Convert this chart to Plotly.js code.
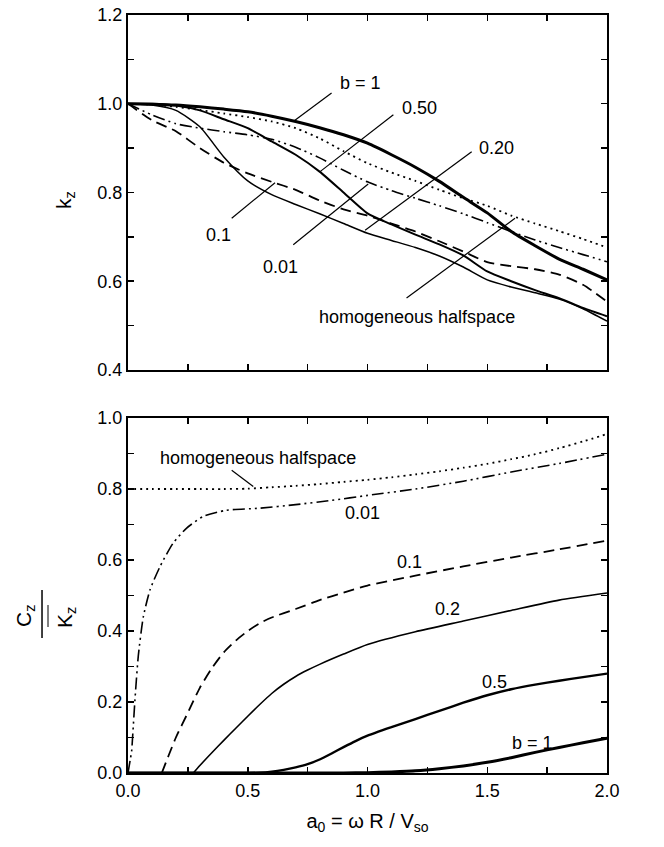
<!DOCTYPE html>
<html><head><meta charset="utf-8">
<script src="https://cdn.plot.ly/plotly-3.0.1.min.js"></script>
<style>body{margin:0;background:#fff}#chart{width:664px;height:847px}</style>
</head><body><div id="chart"></div>
<script>
// ---------- data: upper panel (k_z) ----------
const xTop = [0,0.1,0.2,0.3,0.4,0.5,0.6,0.7,0.8,0.9,1.0,1.1,1.2,1.3,1.4,1.5,1.6,1.7,1.8,1.9,2.0];
const kB1   = [1.0,0.999,0.997,0.993,0.988,0.982,0.972,0.960,0.946,0.930,0.911,0.885,0.857,0.825,0.789,0.754,0.712,0.680,0.650,0.627,0.603];
const kB050 = [1.0,1.0,0.996,0.985,0.965,0.945,0.915,0.885,0.847,0.800,0.753,0.728,0.705,0.683,0.658,0.622,0.600,0.580,0.562,0.540,0.521];
const kB020 = [1.0,0.997,0.985,0.948,0.880,0.826,0.795,0.773,0.752,0.730,0.708,0.692,0.676,0.657,0.632,0.603,0.587,0.574,0.560,0.538,0.510];
const kB01  = [1.0,0.963,0.938,0.900,0.867,0.843,0.824,0.806,0.782,0.762,0.748,0.730,0.712,0.690,0.667,0.643,0.634,0.627,0.615,0.592,0.554];
const kB001 = [1.0,0.975,0.955,0.945,0.937,0.930,0.920,0.902,0.878,0.850,0.824,0.804,0.787,0.770,0.752,0.732,0.712,0.693,0.676,0.660,0.644];
const kHom  = [1.0,0.998,0.993,0.986,0.978,0.970,0.960,0.945,0.922,0.893,0.866,0.845,0.826,0.806,0.787,0.770,0.748,0.730,0.713,0.695,0.676];

// ---------- data: lower panel (C_z / K_z) ----------
const xHomC = [0,0.1,0.2,0.3,0.4,0.5,0.6,0.7,0.8,0.9,1.0,1.1,1.2,1.3,1.4,1.5,1.6,1.7,1.8,1.9,2.0];
const cHom  = [0.8,0.8,0.8,0.8,0.8,0.801,0.805,0.809,0.814,0.820,0.826,0.833,0.841,0.850,0.860,0.871,0.884,0.898,0.915,0.934,0.955];
const x001C = [0,0.005,0.01,0.015,0.02,0.03,0.043,0.064,0.092,0.134,0.189,0.245,0.315,0.41,0.55,0.7,0.85,1.0,1.2,1.4,1.6,1.8,2.0];
const c001  = [0,0.02,0.04,0.06,0.11,0.216,0.33,0.44,0.516,0.582,0.648,0.69,0.723,0.74,0.746,0.756,0.768,0.782,0.800,0.822,0.848,0.872,0.898];
const x01C  = [0.141,0.17,0.2,0.25,0.3,0.35,0.4,0.45,0.5,0.55,0.6,0.7,0.8,0.9,1.0,1.2,1.4,1.6,1.8,2.0];
const c01   = [0,0.05,0.1,0.17,0.24,0.295,0.34,0.373,0.40,0.422,0.438,0.462,0.487,0.508,0.528,0.556,0.582,0.607,0.630,0.655];
const x02C  = [0.273,0.3,0.35,0.4,0.45,0.5,0.55,0.6,0.65,0.7,0.75,0.8,0.9,1.0,1.2,1.4,1.6,1.8,2.0];
const c02   = [0,0.021,0.057,0.092,0.126,0.16,0.193,0.224,0.25,0.272,0.29,0.306,0.335,0.362,0.398,0.428,0.458,0.487,0.507];
const x05C  = [0,0.3,0.5,0.55,0.6,0.65,0.7,0.75,0.8,0.85,0.9,0.95,1.0,1.1,1.2,1.3,1.4,1.5,1.6,1.7,1.8,1.9,2.0];
const c05   = [0,0,0,0.001,0.004,0.009,0.016,0.025,0.038,0.055,0.073,0.09,0.105,0.129,0.152,0.175,0.198,0.219,0.236,0.249,0.260,0.270,0.280];
const x1C   = [0,0.5,0.8,0.9,1.0,1.1,1.2,1.3,1.4,1.5,1.6,1.7,1.8,1.9,2.0];
const c1    = [0,0,0,0,0.001,0.003,0.006,0.012,0.020,0.030,0.043,0.058,0.072,0.085,0.098];

// ---------- axes ticks ----------
const xMajor = 0.5, xMinor = 0.25;
const yMajor = 0.2, yMinor = 0.1;

const FONT = 'Liberation Sans, Arial, sans-serif';
const DASH = '11px,6px';
const DDOT = '12px,4px,2px,4px,2px,4px';
const DOT = '2px,4px';

function tr(x, y, ax, w, dash, shape){
  return {x:x, y:y, xaxis:ax[0], yaxis:ax[1], type:'scatter', mode:'lines',
    line:{color:'#000', width:w, dash:dash||'solid', shape:shape||'spline', smoothing:0.6},
    hoverinfo:'skip', showlegend:false};
}
const T = ['x','y'], B = ['x2','y2'];
const data = [
  tr(xTop,kHom,T,1.8,DOT),
  tr(xTop,kB001,T,1.6,DDOT),
  tr(xTop,kB01,T,1.8,DASH),
  tr(xTop,kB020,T,1.5),
  tr(xTop,kB050,T,2.0),
  tr(xTop,kB1,T,3.0),
  tr(xHomC,cHom,B,1.8,DOT),
  tr(x001C,c001,B,1.6,DDOT),
  tr(x01C,c01,B,1.8,DASH),
  tr(x02C,c02,B,1.6),
  tr(x05C,c05,B,2.4),
  tr(x1C,c1,B,3.0)
];

const tickCommon = {ticks:'inside', ticklen:6, tickwidth:1.5, tickcolor:'#000',
  showline:true, linewidth:2, linecolor:'#000', mirror:'allticks', showgrid:false, zeroline:false,
  tickformat:'.1f', tickfont:{family:FONT,size:18,color:'#000'}};

function xax(anchor, labels, title){
  const a = Object.assign({range:[0,2], anchor:anchor, tick0:0, dtick:xMajor, showticklabels:labels,
    minor:{dtick:xMinor, tick0:0, ticks:'inside', ticklen:6, tickwidth:1.5, tickcolor:'#000', showgrid:false}}, tickCommon);
  if(title) a.title = {text:title, font:{family:FONT,size:20,color:'#000'}, standoff:14};
  return a;
}
function yax(anchor, dom, rng){
  return Object.assign({domain:dom, range:rng, anchor:anchor, tick0:0, dtick:yMajor,
    minor:{dtick:yMinor, tick0:0, ticks:'inside', ticklen:6, tickwidth:1.5, tickcolor:'#000', showgrid:false}}, tickCommon);
}

function ann(xr, yr, x, y, text, size){
  return {xref:xr, yref:yr, x:x, y:y, text:text, showarrow:false,
    font:{family:FONT,size:size||18,color:'#000'}, xanchor:'center', yanchor:'middle'};
}
function seg(xr, yr, x0, y0, x1, y1, w){
  return {type:'line', xref:xr, yref:yr, x0:x0, y0:y0, x1:x1, y1:y1, line:{color:'#000', width:w||1.2}};
}

const layout = {
  width:664, height:847, paper_bgcolor:'#fff', plot_bgcolor:'#fff',
  margin:{l:128, r:57, t:15, b:74},
  xaxis: xax('y', false),
  yaxis: yax('x', [0.5317,1], [0.4,1.2]),
  xaxis2: xax('y2', true, 'a<sub>0</sub> = ω R / V<sub>so</sub>'),
  yaxis2: yax('x2', [0,0.4683], [0,1]),
  annotations:[
    ann('x','y',0.969,1.047,'b = 1'),
    ann('x','y',1.219,0.990,'0.50'),
    ann('x','y',1.537,0.900,'0.20'),
    ann('x','y',0.376,0.704,'0.1'),
    ann('x','y',0.635,0.632,'0.01'),
    ann('x','y',1.206,0.520,'homogeneous halfspace'),
    ann('x2','y2',0.543,0.887,'homogeneous halfspace'),
    ann('x2','y2',0.981,0.732,'0.01'),
    ann('x2','y2',1.177,0.594,'0.1'),
    ann('x2','y2',1.332,0.462,'0.2'),
    ann('x2','y2',1.532,0.256,'0.5'),
    ann('x2','y2',1.691,0.084,'b = 1'),
    Object.assign(ann('paper','paper',-0.1315,0.756,'k<sub>z</sub>',21),{textangle:-90}),
    Object.assign(ann('paper','paper',-0.215,0.2071,'C<sub>z</sub>',21),{textangle:-90}),
    Object.assign(ann('paper','paper',-0.1294,0.2045,'K<sub>z</sub>',21),{textangle:-90})
  ],
  shapes:[
    seg('x','y',0.850,1.024,0.690,0.960),
    seg('x','y',1.108,0.975,0.802,0.847),
    seg('x','y',1.435,0.892,0.990,0.715),
    seg('x','y',0.433,0.742,0.614,0.822),
    seg('x','y',0.690,0.682,1.003,0.819),
    seg('x','y',1.163,0.562,1.616,0.742),
    seg('x2','y2',0.433,0.853,0.523,0.807),
    seg('paper','paper',-0.1795,0.2414,-0.1795,0.1781,1.5),
    seg('paper','paper',-0.167,0.2216,-0.167,0.1926,1)
  ]
};
Plotly.newPlot('chart', data, layout, {displayModeBar:false, staticPlot:true});
</script></body></html>
